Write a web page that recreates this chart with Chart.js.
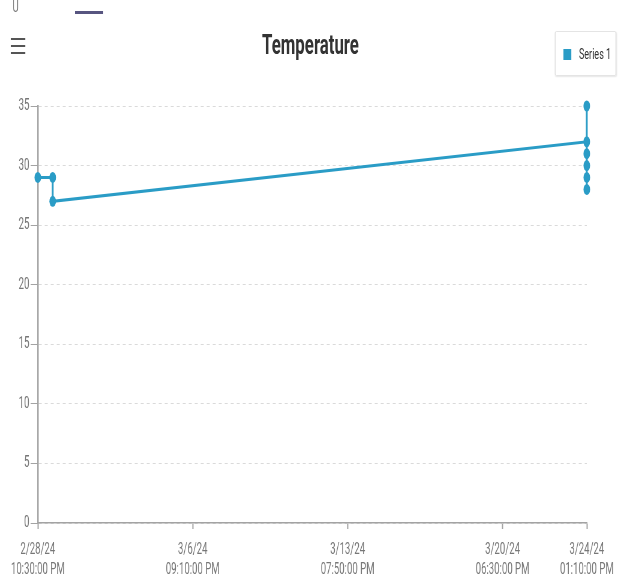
<!DOCTYPE html>
<html>
<head>
<meta charset="utf-8">
<script src="https://cdn.jsdelivr.net/npm/chart.js@4.4.1/dist/chart.umd.min.js"></script>
<style>
  html, body { margin: 0; padding: 0; background: #fff; overflow: hidden; }
  /* the whole screen is laid out wide and squeezed horizontally */
  #page { position: relative; width: 1035px; height: 585px; overflow: hidden;
          transform: scaleX(0.6); transform-origin: 0 0; font-family: Roboto, sans-serif; }
  #chartWrap { position: absolute; left: 0; top: 0; width: 1035px; height: 585px; }
  .tab-glyph { position: absolute; left: 21px; top: -1px; font-size: 16px; color: #777; line-height: 1; }
  .tab-bar { position: absolute; left: 125px; top: 11px; width: 47px; height: 3px; background: #575580; }
  .menu { position: absolute; left: 18px; top: 38px; width: 24px; }
  .menu span { display: block; height: 2px; background: #555; margin-bottom: 5px; }
  h1 { position: absolute; left: 0; width: 1035px; top: 28px; margin: 0; text-align: center;
       font: bold 28px Roboto, sans-serif; color: #333; line-height: 34px; }
  .legend { position: absolute; left: 925px; top: 31px; width: 102px; height: 45px; box-sizing: border-box;
            border: 1px solid #ddd; border-radius: 2px; box-shadow: 0 1px 2px rgba(0,0,0,0.1); }
  .legend i { position: absolute; left: 13px; top: 17px; width: 13px; height: 11px; }
  .legend b { position: absolute; left: 39px; top: 13px; font: 15px Roboto, sans-serif; color: #333;
              white-space: nowrap; line-height: 18px; }
</style>
</head>
<body>
<div id="page">
  <div id="chartWrap"><canvas id="tempChart"></canvas></div>
  <div class="tab-glyph">U</div>
  <div class="tab-bar"></div>
  <div class="menu"><span></span><span></span><span></span></div>
  <h1>Temperature</h1>
  <div class="legend" id="legend"></div>
</div>
<script>
// Readings (UTC timestamps) and temperatures
const readingTimes = [
  '2024-02-28T22:30', '2024-02-29T14:30', '2024-02-29T14:31',
  '2024-03-24T13:05', '2024-03-24T13:06', '2024-03-24T13:07',
  '2024-03-24T13:08', '2024-03-24T13:09', '2024-03-24T13:10'
];
const temperatures = [29, 29, 27, 32, 35, 31, 30, 29, 28];
const seriesName = 'Series 1';

// x-axis tick positions
const tickTimes = [
  '2024-02-28T22:30', '2024-03-06T21:10', '2024-03-13T19:50',
  '2024-03-20T18:30', '2024-03-24T13:10'
];
const yTicks = [0, 5, 10, 15, 20, 25, 30, 35];

const lineColor = '#2a9cc6';
const axisColor = '#a3a3a3';
const labelColor = '#777';

const toMs = s => Date.parse(s + ':00Z');
const pad2 = n => String(n).padStart(2, '0');

function formatTick(ms) {
  const d = new Date(ms);
  const date = `${d.getUTCMonth() + 1}/${d.getUTCDate()}/${String(d.getUTCFullYear()).slice(2)}`;
  let h = d.getUTCHours();
  const ampm = h >= 12 ? 'PM' : 'AM';
  h = h % 12 || 12;
  return [date, `${pad2(h)}:${pad2(d.getUTCMinutes())}:${pad2(d.getUTCSeconds())} ${ampm}`];
}

const points = readingTimes.map((t, i) => ({ x: toMs(t), y: temperatures[i] }));
const tickMs = tickTimes.map(toMs);

// HTML legend built from the dataset
document.getElementById('legend').innerHTML =
  `<i style="background:${lineColor}"></i><b>${seriesName}</b>`;

new Chart(document.getElementById('tempChart'), {
  type: 'line',
  data: {
    datasets: [{
      label: seriesName,
      data: points,
      borderColor: lineColor,
      backgroundColor: lineColor,
      borderWidth: 3,
      pointRadius: 5.5,
      pointHoverRadius: 5.5,
      pointBorderWidth: 0,
      tension: 0,
      clip: false
    }]
  },
  options: {
    responsive: true,
    maintainAspectRatio: false,
    animation: false,
    layout: { padding: { top: 106, left: 0, right: 57, bottom: 0 } },
    plugins: { legend: { display: false }, title: { display: false }, tooltip: { enabled: false } },
    scales: {
      x: {
        type: 'linear',
        min: tickMs[0],
        max: tickMs[tickMs.length - 1],
        afterBuildTicks: scale => { scale.ticks = tickMs.map(v => ({ value: v })); },
        afterFit: scale => { scale.height = 62; scale.paddingLeft = 0; scale.paddingRight = 0; },
        grid: { drawOnChartArea: false, drawTicks: true, tickLength: 6, tickColor: axisColor, tickWidth: 2 },
        border: { color: axisColor, width: 1.5 },
        ticks: {
          autoSkip: false, maxRotation: 0, minRotation: 0, padding: 11,
          color: labelColor,
          font: { family: 'Roboto', size: 16, lineHeight: '20px' },
          callback: v => formatTick(v)
        }
      },
      y: {
        min: 0,
        max: 35,
        afterBuildTicks: scale => { scale.ticks = yTicks.map(v => ({ value: v })); },
        afterFit: scale => { scale.width = 63; scale.paddingTop = 0; scale.paddingBottom = 0; },
        grid: { color: '#dadada', tickColor: axisColor, tickLength: 12, tickBorderDash: [] },
        border: { color: axisColor, width: 2.5, dash: [5, 5] },
        ticks: { padding: 2, color: labelColor, font: { family: 'Roboto', size: 16 } }
      }
    }
  }
});
</script>
</body>
</html>
